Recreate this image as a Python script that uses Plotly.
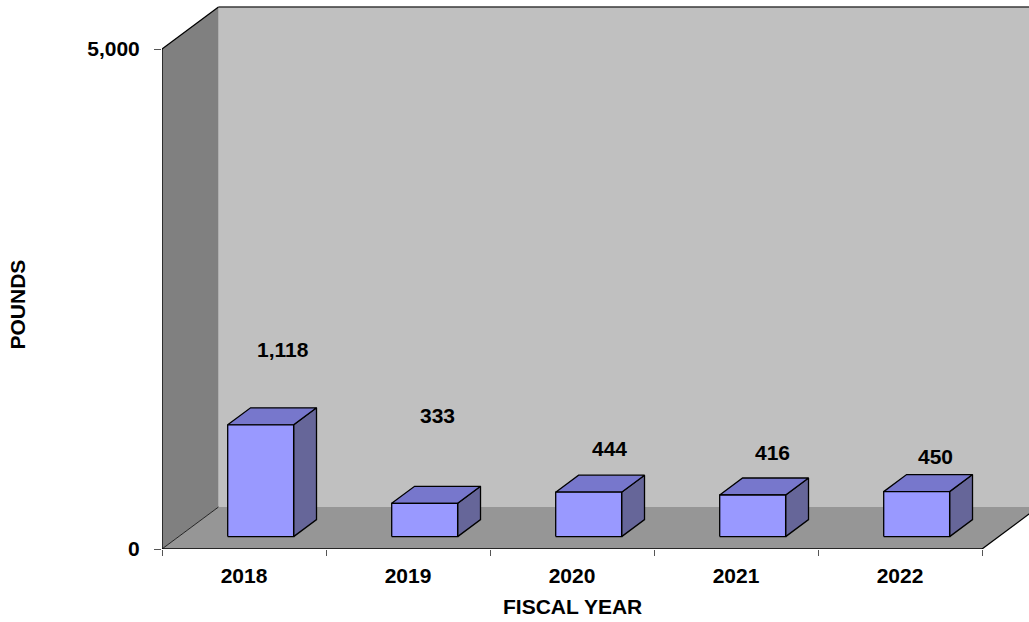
import plotly.graph_objects as go

# ---------------- data ----------------
years = ["2018", "2019", "2020", "2021", "2022"]
pounds = [1118, 333, 444, 416, 450]
value_labels = ["1,118", "333", "444", "416", "450"]
y_tick_vals = [0, 5000]
y_tick_text = ["0", "5,000"]
x_title = "FISCAL YEAR"
y_title = "POUNDS"

# ---------------- layout / style ----------------
W, H = 1029, 622
PLOT_L = 162          # px, left of plot area (front-left wall edge)
PLOT_B = 549          # px from top, front floor edge
CAT_PX = 164.0        # px per category
PX_PER_UNIT = 0.1     # px per pound
DEPTH_DX_PX = 56.5
DEPTH_DY_PX = 42.0
BAR_W = 0.402         # fraction of category
BAR_F, BAR_B = 0.295, 0.70   # depth fractions of bar front/back
LABEL_NUDGE_X_PX = [-1, -10, -2, -3, -4]
LABEL_NUDGE_Y_PX = [58, 71, 27, 26, 18]

FONT = "Liberation Sans, Arial, sans-serif"
WALL_BACK = "#C0C0C0"
WALL_LEFT = "#808080"
FLOOR = "#969696"
BAR_FRONT = "#9999FF"
BAR_TOP = "#7777CC"
BAR_SIDE = "#666699"
EDGE = "#000000"

DX = DEPTH_DX_PX / CAT_PX
DY = DEPTH_DY_PX / PX_PER_UNIT
x_max = (W - PLOT_L) / CAT_PX
y_max = PLOT_B / PX_PER_UNIT
n = len(years)
y_top = max(y_tick_vals)


def pt(x, y, d):
    return x + d * DX, y + d * DY


def poly(points, fill, line_color=None, width=0):
    xs = [p[0] for p in points] + [points[0][0]]
    ys = [p[1] for p in points] + [points[0][1]]
    return go.Scatter(
        x=xs, y=ys, mode="lines", fill="toself", fillcolor=fill,
        line=dict(color=line_color or fill, width=width),
        hoverinfo="skip", showlegend=False,
    )


def seg(a, b, color=EDGE, width=1.3):
    return go.Scatter(
        x=[a[0], b[0]], y=[a[1], b[1]], mode="lines",
        line=dict(color=color, width=width),
        hoverinfo="skip", showlegend=False,
    )


fig = go.Figure()

# back wall
fig.add_trace(poly([pt(0, 0, 1), pt(n + 1, 0, 1), pt(n + 1, y_top, 1), pt(0, y_top, 1)], WALL_BACK))
# left wall
fig.add_trace(poly([pt(0, 0, 0), pt(0, y_top, 0), pt(0, y_top, 1), pt(0, 0, 1)], WALL_LEFT))
# floor
fig.add_trace(poly([pt(0, 0, 0), pt(n, 0, 0), pt(n, 0, 1), pt(0, 0, 1)], FLOOR))

# edges
fig.add_trace(seg(pt(0, 0, 0), pt(0, y_top, 0)))
fig.add_trace(seg(pt(0, y_top, 0), pt(0, y_top, 1)))
fig.add_trace(seg(pt(0, y_top, 1), pt(n + 1, y_top, 1), color="#3a3a3a", width=1.6))
fig.add_trace(seg(pt(0, 0, 0), pt(n, 0, 0), width=1.6))
fig.add_trace(seg(pt(0, 0, 0), pt(0, 0, 1), width=0.8))
fig.add_trace(seg(pt(n, 0, 0), pt(n, 0, 1), width=1.3))

# bars
for i, v in enumerate(pounds):
    xc = i + 0.5
    x0, x1 = xc - BAR_W / 2, xc + BAR_W / 2
    fig.add_trace(poly([pt(x1, 0, BAR_F), pt(x1, 0, BAR_B), pt(x1, v, BAR_B), pt(x1, v, BAR_F)],
                       BAR_SIDE, EDGE, 1.3))
    fig.add_trace(poly([pt(x0, v, BAR_F), pt(x1, v, BAR_F), pt(x1, v, BAR_B), pt(x0, v, BAR_B)],
                       BAR_TOP, EDGE, 1.3))
    fig.add_trace(poly([pt(x0, 0, BAR_F), pt(x1, 0, BAR_F), pt(x1, v, BAR_F), pt(x0, v, BAR_F)],
                       BAR_FRONT, EDGE, 1.3))

annotations = []
for i, (v, lab) in enumerate(zip(pounds, value_labels)):
    bx, by = pt(i + 0.5, v, BAR_B)
    annotations.append(dict(
        x=bx + LABEL_NUDGE_X_PX[i] / CAT_PX,
        y=by + LABEL_NUDGE_Y_PX[i] / PX_PER_UNIT,
        xref="x", yref="y", text=lab, showarrow=False,
        xanchor="center", yanchor="middle",
        font=dict(family=FONT, size=21, color="black", weight="bold"),
    ))

annotations.append(dict(
    x=n / 2, y=(PLOT_B - 606.7) / PLOT_B, xref="x", yref="paper",
    text=x_title, showarrow=False, xanchor="center", yanchor="middle",
    font=dict(family=FONT, size=21, color="black", weight="bold"),
))
annotations.append(dict(
    x=(17 - PLOT_L) / (W - PLOT_L), y=(PLOT_B - 304.5) / PLOT_B,
    xref="paper", yref="paper", text=y_title, showarrow=False,
    textangle=-90, xanchor="center", yanchor="middle",
    font=dict(family=FONT, size=21, color="black", weight="bold"),
))

fig.update_layout(
    width=W, height=H,
    margin=dict(l=PLOT_L, r=0, t=0, b=H - PLOT_B, pad=0),
    paper_bgcolor="white", plot_bgcolor="white",
    showlegend=False,
    annotations=annotations,
    xaxis=dict(
        range=[0, x_max], showgrid=False, zeroline=False, showline=False,
        tickmode="array", tickvals=[i + 0.5 for i in range(n)], ticktext=years,
        ticks="", ticklabelstandoff=12,
        tickfont=dict(family=FONT, size=21, color="black", weight="bold"),
        minor=dict(tickmode="array", tickvals=list(range(n + 1)), ticks="outside",
                   ticklen=6, tickcolor="#555555", tickwidth=1, showgrid=False),
        fixedrange=True,
    ),
    yaxis=dict(
        range=[0, y_max], showgrid=False, zeroline=False, showline=False,
        tickmode="array", tickvals=y_tick_vals, ticktext=y_tick_text,
        ticks="outside", ticklen=7, tickcolor="#555555", tickwidth=1,
        ticklabelstandoff=10,
        tickfont=dict(family=FONT, size=21, color="black", weight="bold"),
        fixedrange=True,
    ),
)

fig.write_html(
    "out.html",
    config={"displayModeBar": False},
    post_script="document.body.style.margin='0';document.body.style.overflow='hidden';",
)
